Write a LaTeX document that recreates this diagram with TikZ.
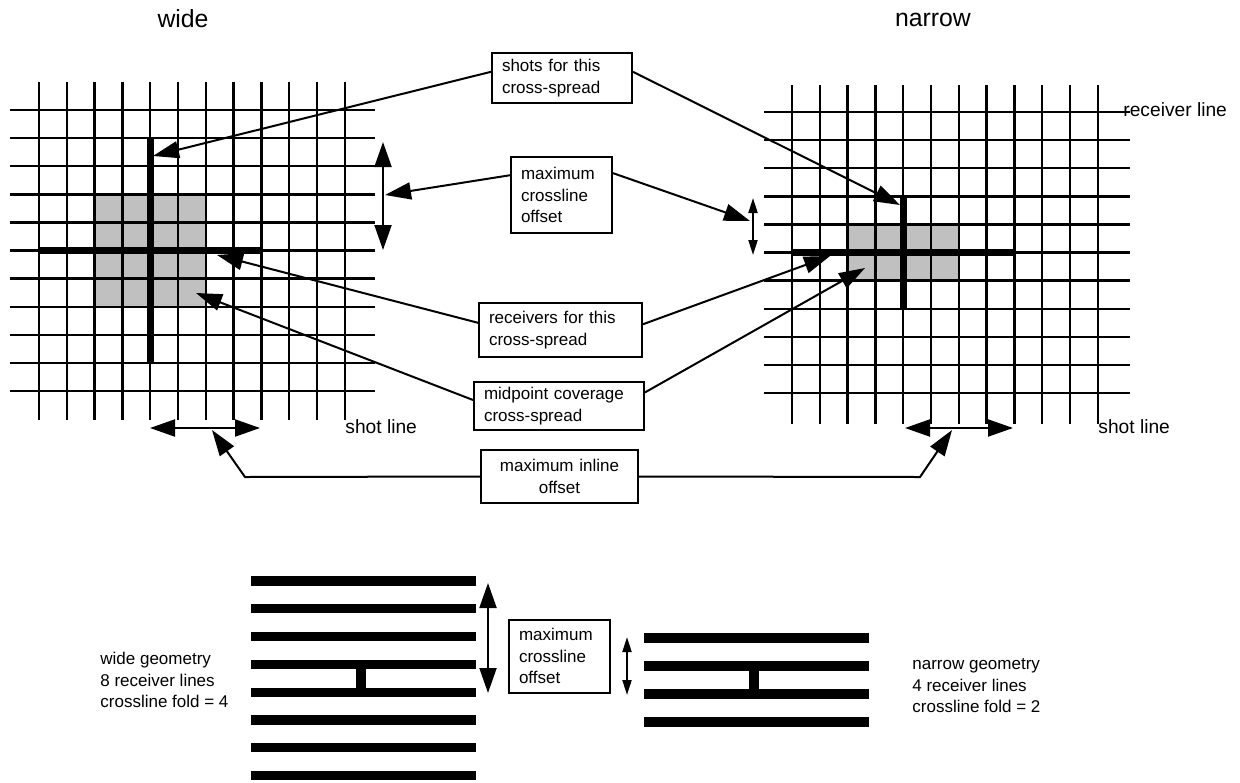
\documentclass[tikz,border=0pt]{standalone}
\usepackage{fontspec}
\setmainfont{Liberation Sans}
\usepackage{xcolor}
\definecolor{covgray}{HTML}{C0C0C0}
\usetikzlibrary{arrows.meta}
\newcommand{\boxfont}{\fontsize{8.5}{10.75}\selectfont}
\newcommand{\labfont}{\fontsize{9.6}{11.5}\selectfont}
\newcommand{\ttlfont}{\fontsize{12.4}{14}\selectfont}
\tikzset{
    gridline/.style = {line width=1.2pt},
    spread/.style = {line width=3.5pt},
    bar/.style = {line width=4.6pt},
    box/.style 2 args = {draw, line width=1pt, font=\boxfont, align=left,
                         text width=#1, minimum height=#2,
                         inner xsep=5pt, inner ysep=0pt},
    arrow/.style = {-{Triangle[length=13pt, width=8.5pt]}, line width=1pt},
    dblarrow/.style = {{Triangle[length=12.5pt, width=8.5pt]}-{Triangle[length=12.5pt, width=8.5pt]},
                       line width=1pt},
    smallarrow/.style = {{Triangle[length=7.5pt, width=4.5pt]}-{Triangle[length=7.5pt, width=4.5pt]},
                         line width=1pt},
    label/.style = {font=\labfont, inner sep=0pt},
}

\begin{document}
\begin{tikzpicture}[x=0.5pt, y=-0.5pt]
        \useasboundingbox (0,0) rectangle (1240,782);
        % titles
        \node[font=\ttlfont] (wtitle) at (183,19) {wide};
        \node[font=\ttlfont] (ntitle) at (933,20) {narrow};
        % wide grid
        \fill[covgray] (94.6,194.3) rectangle (205.8,306.7);
        \foreach \i in {0,...,11}
            \draw[gridline] ({39+27.8*\i},82) -- ({39+27.8*\i},420);
        \foreach \j in {0,...,10}
            \draw[gridline] (10,{110+28.1*\j}) -- (375,{110+28.1*\j});
        \draw[spread] (150.2,139) -- (150.2,364);
        \draw[spread] (39,250.5) -- (261,250.5);
        % narrow grid
        \fill[covgray] (847.6,224.4) rectangle (958.8,280.6);
        \foreach \i in {0,...,11}
            \draw[gridline] ({792+27.8*\i},85) -- ({792+27.8*\i},424);
        \foreach \j in {0,...,10}
            \draw[gridline] (764,{112+28.1*\j}) -- (1130,{112+28.1*\j});
        \draw[spread] (903.2,197) -- (903.2,310);
        \draw[spread] (792,252.5) -- (1014,252.5);
        % grid labels
        \node[label, anchor=west] (rlab) at (1123,110) {receiver line};
        \node[label, anchor=base west] (wslab) at (345,433) {shot line};
        \node[label, anchor=base west] (nslab) at (1098,433) {shot line};
        % offset arrows
        \coordinate (wxltop) at (383,142);
        \coordinate (wxlbot) at (383,250);
        \draw[dblarrow] (wxltop) -- (wxlbot);
        \coordinate (nxltop) at (753,198);
        \coordinate (nxlbot) at (753,255);
        \draw[smallarrow] (nxltop) -- (nxlbot);
        \coordinate (willeft) at (150,428);
        \coordinate (wilright) at (260,428);
        \draw[dblarrow] (willeft) -- (wilright);
        \coordinate (nilleft) at (905,428);
        \coordinate (nilright) at (1013,428);
        \draw[dblarrow] (nilleft) -- (nilright);
        % boxes
        \node[box={60pt}{25pt}] (shots) at (562,78)
            {shots for this\\cross-spread};
        \node[box={40.5pt}{38pt}] (xl) at (561.5,195)
            {maximum\\crossline\\offset};
        \node[box={71.5pt}{27pt}] (recv) at (560.5,330)
            {receivers for this\\cross-spread};
        \node[box={75pt}{24pt}] (mid) at (559,406)
            {midpoint coverage\\cross-spread};
        \node[box={68.5pt}{26.5pt}, align=center] (inl) at (559.5,476.5)
            {maximum inline\\offset};
        % connector ends
        \coordinate (wshot) at (153,156);
        \coordinate (nshot) at (900,205);
        \coordinate (wxl) at (385,195);
        \coordinate (nxl) at (750,221);
        \coordinate (wrecv) at (217,255);
        \coordinate (nrecv) at (830,256);
        \coordinate (wmid) at (196,293);
        \coordinate (nmid) at (865,268);
        \coordinate (wilbend) at (245,477);
        \coordinate (wil) at (212,430);
        \coordinate (nilbend) at (920,477);
        \coordinate (nil) at (952,430);
        % connectors
        \draw[arrow] (shots.175) -- (wshot);
        \draw[arrow] (shots.5) -- (nshot);
        \draw[arrow] (xl.159) -- (wxl);
        \draw[arrow] (xl.23) -- (nxl);
        \draw[arrow] (recv.175) -- (wrecv);
        \draw[arrow] (recv.4) -- (nrecv);
        \draw[arrow] (mid.176) -- (wmid);
        \draw[arrow] (mid.9) -- (nmid);
        \draw[arrow] (inl.west) -- (wilbend) -- (wil);
        \draw[arrow] (inl.east) -- (nilbend) -- (nil);
        % wide geometry
        \foreach \j in {0,...,7}
            \draw[bar] (251,{581+27.8*\j}) -- (476,{581+27.8*\j});
        \draw[line width=5pt] (361,664.4) -- (361,692.2);
        \node[font=\boxfont, align=left, anchor=west, inner sep=0pt] (wgeo) at (100,680)
            {wide geometry\\8 receiver lines\\crossline fold = 4};
        % narrow geometry
        \foreach \j in {0,...,3}
            \draw[bar] (644,{638+28*\j}) -- (869,{638+28*\j});
        \draw[line width=5pt] (754,666) -- (754,694);
        \node[font=\boxfont, align=left, anchor=west, inner sep=0pt] (ngeo) at (912,686)
            {narrow geometry\\4 receiver lines\\crossline fold = 2};
        % crossline offsets compared
        \coordinate (bwtop) at (488,583);
        \coordinate (bwbot) at (488,693);
        \draw[dblarrow] (bwtop) -- (bwbot);
        \coordinate (bntop) at (627,637);
        \coordinate (bnbot) at (627,695);
        \draw[smallarrow] (bntop) -- (bnbot);
        \node[box={40.5pt}{36.5pt}] (bxl) at (559.5,656)
            {maximum\\crossline\\offset};
\end{tikzpicture}
\end{document}
